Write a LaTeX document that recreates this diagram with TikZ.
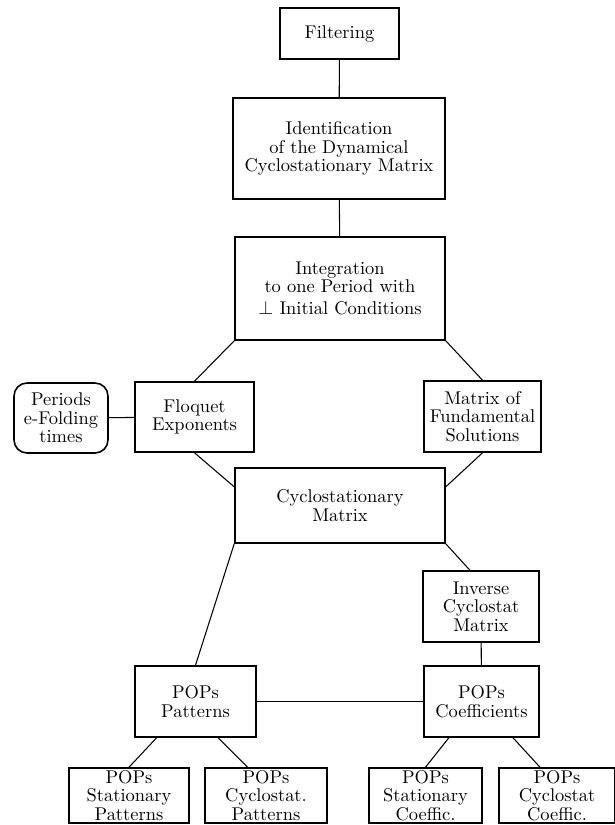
\documentclass[tikz,border=0pt]{standalone}
\usepackage{tikz}

\begin{document}
\begin{tikzpicture}[x=0.02cm, y=-0.02cm,
    box/.style={draw, line width=0.9pt, align=center, inner sep=0pt,
                font=\fontsize{10.5}{10.6}\selectfont},
    link/.style={line width=0.6pt}]
  \useasboundingbox (0,0) rectangle (615,825);

  % Main column
  \node[box, minimum width=2.38cm, minimum height=1.02cm] (filt) at (339.5,33.5) {Filtering};
  \node[box, minimum width=4.24cm, minimum height=2.02cm] (ident) at (339,148.5)
    {Identification\\of the Dynamical\\Cyclostationary Matrix};
  \node[box, minimum width=4.2cm, minimum height=2.06cm] (integ) at (340,288.5)
    {Integration\\to one Period with\\[2pt]$\perp$ Initial Conditions};

  % Floquet level
  \node[box, rounded corners=0.26cm, minimum width=1.88cm, minimum height=1.4cm] (per) at (61,418)
    {Periods\\e-Folding\\times};
  \node[box, minimum width=2.38cm, minimum height=1.4cm] (floq) at (194.5,417) {Floquet\\Exponents};
  \node[box, minimum width=2.34cm, minimum height=1.42cm] (fund) at (482.5,416.5)
    {Matrix of\\Fundamental\\Solutions};
  \node[box, minimum width=4.2cm, minimum height=1.5cm] (cyc) at (340,505.5) {Cyclostationary\\Matrix};
  \node[box, minimum width=2.32cm, minimum height=1.42cm] (inv) at (481,606.5)
    {Inverse\\Cyclostat\\Matrix};

  % POPs
  \node[box, minimum width=2.42cm, minimum height=1.42cm] (pat) at (195.5,701.5) {POPs\\Patterns};
  \node[box, minimum width=2.3cm, minimum height=1.42cm] (coef) at (481.5,701.5) {POPs\\Coefficients};

  \foreach \nm/\cx/\w/\txt in {sp/129/2.4/{POPs\\Stationary\\Patterns},
                              cp/266/2.44/{POPs\\Cyclostat.\\Patterns},
                              sc/425.5/2.26/{POPs\\Stationary\\Coeffic.},
                              cc/557/2.32/{POPs\\Cyclostat\\Coeffic.}} {
    \node[box, minimum width=\w cm, minimum height=1.1cm] (\nm) at (\cx,795.5) {\txt};
  }

  % Connections
  \draw[link] (filt) -- (ident);
  \draw[link] (ident) -- (integ);
  \draw[link] (integ.south west) -- (floq.north);
  \draw[link] (integ.south east) -- (fund.north);
  \draw[link] (per) -- (floq);
  \draw[link] (floq.south) -- (cyc.170);
  \draw[link] (fund.south) -- (cyc.10);
  \draw[link] (cyc.south west) -- (pat.north);
  \draw[link] (cyc.south east) -- (inv.107);
  \draw[link] (inv) -- (coef);
  \draw[link] (pat) -- (coef);
  \draw[link] (pat.223) -- (sp.north);
  \draw[link] (pat.302) -- (cp.123);
  \draw[link] (coef.228) -- (sc.north);
  \draw[link] (coef.311) -- (cc.121);
\end{tikzpicture}
\end{document}
